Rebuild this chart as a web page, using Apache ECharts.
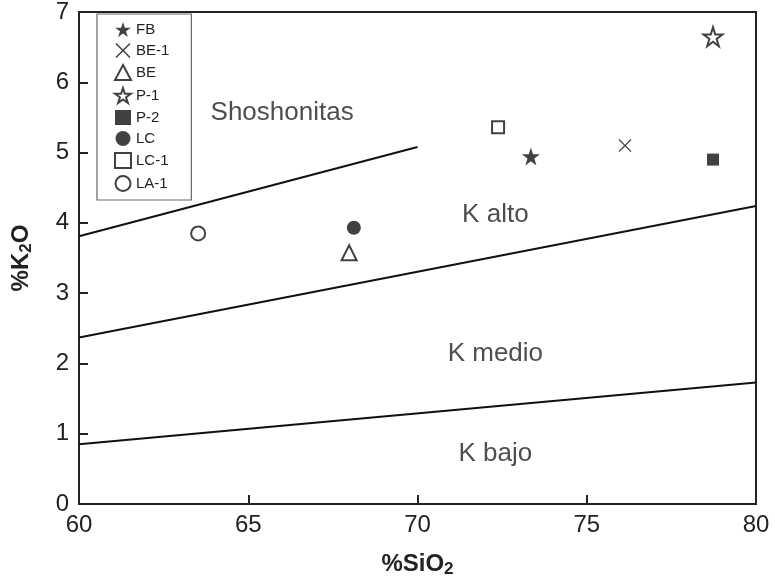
<!DOCTYPE html>
<html>
<head>
<meta charset="utf-8">
<script src="https://cdn.jsdelivr.net/npm/echarts@6/dist/echarts.min.js"></script>
<style>html,body{margin:0;padding:0;background:#fff}#c{width:775px;height:583px}</style>
</head>
<body>
<div id="c"></div>
<script>
// Samples: [SiO2, K2O]
var FB = [[73.35, 4.93]];
var BE1 = [[76.13, 5.10]];
var BE = [[67.98, 3.56]];
var P1 = [[78.73, 6.62]];
var P2 = [[78.73, 4.90]];
var LC = [[68.12, 3.93]];
var LC1 = [[72.38, 5.36]];
var LA1 = [[63.52, 3.85]];

// Boundary lines
var lineShoshonite = [[60, 3.81], [70, 5.08]];
var lineHighK = [[60, 2.37], [80, 4.24]];
var lineMediumK = [[60, 0.85], [80, 1.73]];

// Field labels [x, y, text]
var fieldLabels = [
  [66.0, 5.56, 'Shoshonitas'],
  [72.3, 4.11, 'K alto'],
  [72.3, 2.13, 'K medio'],
  [72.3, 0.71, 'K bajo']
];

var xTicks = [60, 65, 70, 75, 80];
var yTicks = [0, 1, 2, 3, 4, 5, 6, 7];

var STAR = 'path://M50,0 L61.2,34.5 L97.6,34.5 L68.2,55.9 L79.4,90.5 L50,69.1 L20.6,90.5 L31.8,55.9 L2.4,34.5 L38.8,34.5 Z';
var CROSS = 'path://M0,7 L7,0 L50,43 L93,0 L100,7 L57,50 L100,93 L93,100 L50,57 L7,100 L0,93 L43,50 Z';

function pts(name, data, symbol, size, filled, bw, offY) {
  return {
    name: name, type: 'scatter', data: data, symbol: symbol, symbolSize: size,
    symbolOffset: [0, offY || 0],
    itemStyle: filled ? { color: '#111', borderWidth: 0 } : { color: '#fff', borderColor: '#111', borderWidth: bw || 2 },
    z: 5
  };
}
function line(data) {
  return {
    type: 'line', data: data, showSymbol: false, symbol: 'none', silent: true,
    lineStyle: { color: '#111', width: 2 }, z: 3
  };
}

var chart = echarts.init(document.getElementById('c'));
chart.setOption({
  backgroundColor: '#fff',
  animation: false,
  textStyle: { fontFamily: 'Liberation Sans, Arial, sans-serif', color: '#222' },
  grid: { left: 79, right: 19, top: 7, bottom: 76, show: true, borderColor: '#222', borderWidth: 2, backgroundColor: 'transparent' },
  legend: {
    orient: 'vertical', left: 97, top: 14,
    data: ['FB', 'BE-1', 'BE', 'P-1', 'P-2', 'LC', 'LC-1', 'LA-1'],
    itemWidth: 16, itemHeight: 15, itemGap: 6,
    padding: [8, 22, 8, 17],
    borderColor: '#666', borderWidth: 1.2,
    textStyle: { fontSize: 15, color: '#222', fontFamily: 'Liberation Sans, Arial, sans-serif' }
  },
  xAxis: {
    type: 'value', min: xTicks[0], max: xTicks[xTicks.length - 1], interval: 5,
    name: '%SiO{s|2}', nameLocation: 'middle', nameGap: 47,
    nameTextStyle: {
      fontSize: 24, fontWeight: 'bold', color: '#222',
      rich: { s: { fontSize: 17, fontWeight: 'bold', padding: [10, 0, 0, 0], color: '#222' } }
    },
    axisLine: { lineStyle: { color: '#222', width: 2 } },
    axisTick: { inside: true, length: 9, lineStyle: { color: '#222', width: 2 } },
    axisLabel: { fontSize: 24, color: '#222', margin: 9 },
    splitLine: { show: false }
  },
  yAxis: {
    type: 'value', min: yTicks[0], max: yTicks[yTicks.length - 1], interval: 1,
    name: '%K{s|2}O', nameLocation: 'middle', nameGap: 44,
    nameTextStyle: {
      fontSize: 24, fontWeight: 'bold', color: '#222',
      rich: { s: { fontSize: 17, fontWeight: 'bold', padding: [10, 0, 0, 0], color: '#222' } }
    },
    axisLine: { lineStyle: { color: '#222', width: 2 } },
    axisTick: { inside: true, length: 9, lineStyle: { color: '#222', width: 2 } },
    axisLabel: { fontSize: 24, color: '#222', margin: 10 },
    splitLine: { show: false }
  },
  series: [
    line(lineShoshonite), line(lineHighK), line(lineMediumK),
    {
      type: 'scatter', silent: true, symbolSize: 0, z: 4,
      data: fieldLabels.map(function (d) { return { value: [d[0], d[1]], name: d[2] }; }),
      label: { show: true, position: 'inside', formatter: '{b}', fontSize: 26, color: '#222' }
    },
    pts('FB', FB, STAR, 18, true, 0, -1),
    pts('BE-1', BE1, CROSS, 13, true),
    pts('BE', BE, 'triangle', 15, false, 2, -1),
    pts('P-1', P1, STAR, 19, false, 2, -2),
    pts('P-2', P2, 'rect', 12, true),
    pts('LC', LC, 'circle', 14, true),
    pts('LC-1', LC1, 'rect', 12, false),
    pts('LA-1', LA1, 'circle', 14, false)
  ]
});
</script>
</body>
</html>
